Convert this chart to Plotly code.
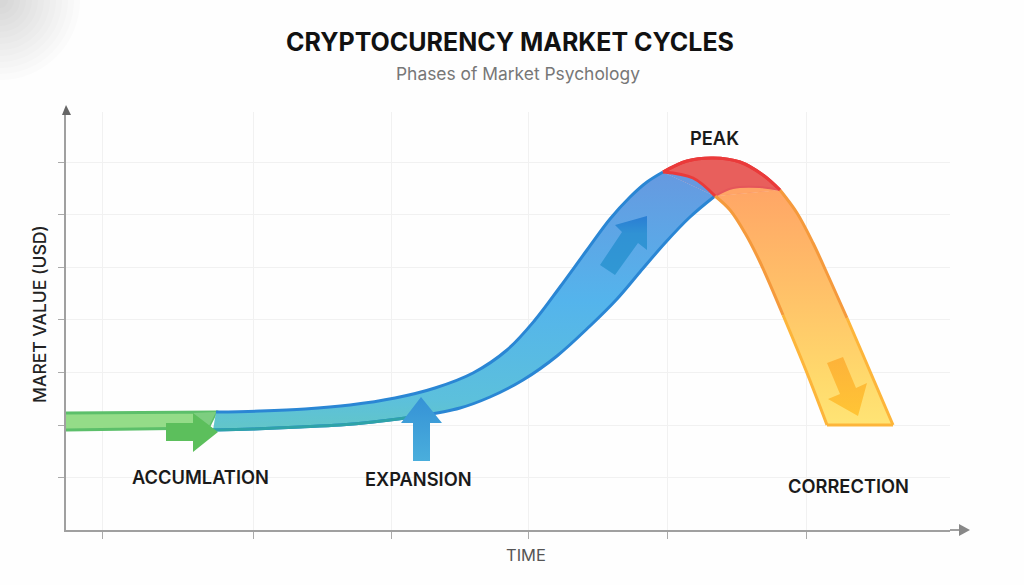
import plotly.graph_objects as go

# axis positions
x_ticks = [102, 253, 391, 528, 667, 806]
y_ticks = [53, 105, 158, 211, 263, 316, 368]

# accumulation phase
accum_x = [66, 216, 208, 66]
accum_y = [117, 118, 102, 100]
accum_end_x = [193, 216, 208]
accum_end_y = [117, 118, 102]

# expansion phase
upper_x = [216, 260, 305, 350, 395, 435, 473, 507, 535, 560, 587, 610, 630, 647, 663]
upper_y = [118, 119, 121, 125, 132, 142, 157, 180, 210, 243, 280, 311, 333, 348, 358]
lower_x = [213, 253, 300, 340, 373, 420, 460, 490, 523, 557, 590, 617, 640, 665, 690, 715]
lower_y = [100, 101, 103, 105, 108, 114, 122, 133, 150, 174, 204, 231, 258, 287, 313, 334]

# peak phase
peak_top_x = [663, 687, 713, 740, 763, 780]
peak_top_y = [358, 369, 372, 368, 355, 340]
peak_left_x = [663, 693, 715]
peak_left_y = [358, 352, 334]
peak_right_x = [715, 733, 760, 780]
peak_right_y = [334, 342, 343, 340]

# correction phase
fall_right_x = [780, 797, 813, 830, 847, 863, 893]
fall_right_y = [340, 317, 287, 250, 212, 175, 105]
fall_left_x = [715, 730, 745, 760, 783, 807, 827]
fall_left_y = [334, 320, 297, 268, 215, 157, 105]

# arrows
arrow_accum_x = [166, 193, 193, 218, 193, 193, 166, 166]
arrow_accum_y = [107, 107, 117, 98, 78, 89, 89, 107]
arrow_expand_x = [413, 413, 401, 421, 442, 430, 430, 413]
arrow_expand_y = [69, 107, 107, 133, 107, 107, 69, 69]
arrow_rise_x = [600, 622, 615, 647, 647, 638, 615, 600]
arrow_rise_y = [265, 298, 305, 314, 280, 287, 255, 265]
arrow_fall_x = [827, 843, 856, 867, 858, 828, 840, 827]
arrow_fall_y = [167, 173, 142, 147, 114, 131, 136, 167]

labels = ["ACCUMLATION", "EXPANSION", "PEAK", "CORRECTION"]
label_x = [200, 418, 714, 848]
label_y = [53, 51, 392, 44]

X_LEFT, X_RIGHT, Y_BOTTOM, Y_TOP = 66, 950, 530, 112
PLOT_W, PLOT_H = X_RIGHT - X_LEFT, Y_BOTTOM - Y_TOP

fig = go.Figure()


def add_line(x, y, color, width=3, fill=None, fillcolor=None, gradient=None, shape="spline"):
    fig.add_trace(go.Scatter(
        x=x, y=y, mode="lines",
        line=dict(color=color, width=width, shape=shape),
        fill=fill, fillcolor=fillcolor, fillgradient=gradient,
        hoverinfo="skip", showlegend=False,
    ))


def vertical(start, stop, stops):
    return dict(type="vertical", start=start, stop=stop, colorscale=stops)


def paper_x(px):
    return (px - X_LEFT) / PLOT_W


def paper_y(py):
    return (Y_BOTTOM - py) / PLOT_H


def add_text(text, px, py, size, color, weight=400, angle=0):
    # annotations on data refs vanish outside the axis range, so these go on paper
    fig.add_annotation(x=paper_x(px), y=paper_y(py), xref="paper", yref="paper",
                       xanchor="center", yanchor="middle",
                       text=text, showarrow=False, textangle=angle,
                       font=dict(family="Inter", size=size, color=color, weight=weight))


def add_axis_arrow(line, head, color):
    fig.add_shape(type="line", xref="paper", yref="paper",
                  x0=paper_x(line[0]), y0=paper_y(line[1]), x1=paper_x(line[2]), y1=paper_y(line[3]),
                  line=dict(color="#a0a0a0", width=2))
    path = "M " + " L ".join(f"{paper_x(px)} {paper_y(py)}" for px, py in head) + " Z"
    fig.add_shape(type="path", xref="paper", yref="paper", path=path, fillcolor=color, line_width=0)


clear = "rgba(0,0,0,0)"

# Peak goes first, expansion and correction are painted over it
add_line(peak_top_x, peak_top_y, "#ea3a3a")
add_line([peak_top_x[0], peak_left_x[-1], peak_top_x[-1]],
         [peak_top_y[0], peak_left_y[-1], peak_top_y[-1]], clear, 0,
         fill="tonexty", fillcolor="#e85f5c", shape="linear")

# Accumulation
add_line(accum_x, accum_y, "#5cbf6a", fill="toself", fillcolor="#94dc88", shape="linear")
add_line(accum_end_x, accum_end_y, clear, 0, fill="toself", fillcolor="#7dce80", shape="linear")

# Expansion
blue_fill = vertical(100, 358, [[0, "#62c6c8"], [0.12, "#5cc0dc"], [0.5, "#54b4ec"], [1, "#6699e0"]])
add_line(upper_x, upper_y, "#2a86d4")
add_line(lower_x, lower_y, "#2a86d4", fill="tonexty", fillcolor="#54b4ec", gradient=blue_fill)
add_line(peak_left_x, peak_left_y, clear, 0, fill="toself", fillcolor="#6699e0")
add_line(lower_x[:6], lower_y[:6], "#2fa3a8")

# Correction
orange_fill = vertical(105, 344, [[0, "#ffe475"], [0.2, "#ffd96c"], [0.6, "#ffbe68"], [1, "#ffa566"]])
add_line(fall_right_x, fall_right_y, clear, 0)
add_line(fall_left_x, fall_left_y, clear, 0, fill="tonexty", fillcolor="#ffc068", gradient=orange_fill)
add_line(peak_right_x, peak_right_y, clear, 0, fill="toself", fillcolor="#ffa566")
add_line(peak_right_x, peak_right_y, "#e5565a", 2)
add_line(fall_right_x[:5], fall_right_y[:5], "#f59a3c")
add_line(fall_right_x[4:], fall_right_y[4:], "#fdb53a")
add_line(fall_left_x[:5], fall_left_y[:5], "#f59a3c")
add_line(fall_left_x[4:], fall_left_y[4:], "#fdb53a")
add_line([fall_left_x[-1], fall_right_x[-1]], [fall_left_y[-1], fall_right_y[-1]], "#fdb53a", shape="linear")

# Strokes that have to sit on top of the fills
add_line(peak_top_x, peak_top_y, "#ea3a3a")
add_line(peak_left_x, peak_left_y, "#ea3a3a")

# Arrows
add_line(arrow_accum_x, arrow_accum_y, clear, 0, fill="toself", fillcolor="#5cbf5c", shape="linear")
add_line(arrow_expand_x, arrow_expand_y, clear, 0, fill="toself", fillcolor="#3a98d8", shape="linear",
         gradient=vertical(69, 133, [[0, "#4aaedc"], [1, "#3592d6"]]))
add_line(arrow_rise_x, arrow_rise_y, clear, 0, fill="toself", fillcolor="#3092d4", shape="linear",
         gradient=vertical(255, 314, [[0, "#3098d4"], [0.7, "#3092d4"], [1, "#2a7dd4"]]))
add_line(arrow_fall_x, arrow_fall_y, clear, 0, fill="toself", fillcolor="#ffb838", shape="linear",
         gradient=vertical(114, 173, [[0, "#ffc535"], [1, "#fdb23a"]]))

# Text
for text, x, y in zip(labels, label_x, label_y):
    add_text(text, x, Y_BOTTOM - y, 18.3, "#1a1a1a", 600)
add_text("CRYPTOCURENCY MARKET CYCLES", 510, 42, 25, "#111111", 700)
add_text("Phases of Market Psychology", 518, 73, 17.4, "#777777")
add_text("TIME", 526, 555, 16.5, "#555555")
add_text("MARET VALUE (USD)", 39, 314, 17.5, "#222222", 500, -90)

# Axis arrows
add_axis_arrow((950, 530, 960, 530), [(959, 524), (970, 530), (959, 536)], "#888888")
add_axis_arrow((66, 112, 66, 115), [(62, 115), (66, 105), (71, 115)], "#666666")

# Grey smudge in the top left corner
for radius in range(8, 84, 6):
    fig.add_shape(type="circle", xref="paper", yref="paper", layer="below",
                  x0=paper_x(-radius), x1=paper_x(radius),
                  y0=paper_y(-radius), y1=paper_y(radius),
                  line_width=0, fillcolor="rgba(110,110,110,0.025)")

fig.update_layout(
    width=1024, height=585,
    margin=dict(l=X_LEFT, r=1024 - X_RIGHT, t=Y_TOP, b=585 - Y_BOTTOM),
    plot_bgcolor="#fefefe", paper_bgcolor="#fefefe",
    showlegend=False,
)
fig.update_xaxes(range=[X_LEFT, X_RIGHT], tickvals=x_ticks, ticks="outside", ticklen=7, tickcolor="#aaaaaa",
                 showticklabels=False, gridcolor="#f1f1f1", zeroline=False, showline=True,
                 linecolor="#a0a0a0", linewidth=2)
fig.update_yaxes(range=[0, PLOT_H], tickvals=y_ticks, ticks="outside", ticklen=6, tickcolor="#aaaaaa",
                 showticklabels=False, gridcolor="#f1f1f1", zeroline=False, showline=True,
                 linecolor="#a0a0a0", linewidth=2)

fig.write_html("out.html", config={"displayModeBar": False},
               post_script="document.body.style.margin='0';")
